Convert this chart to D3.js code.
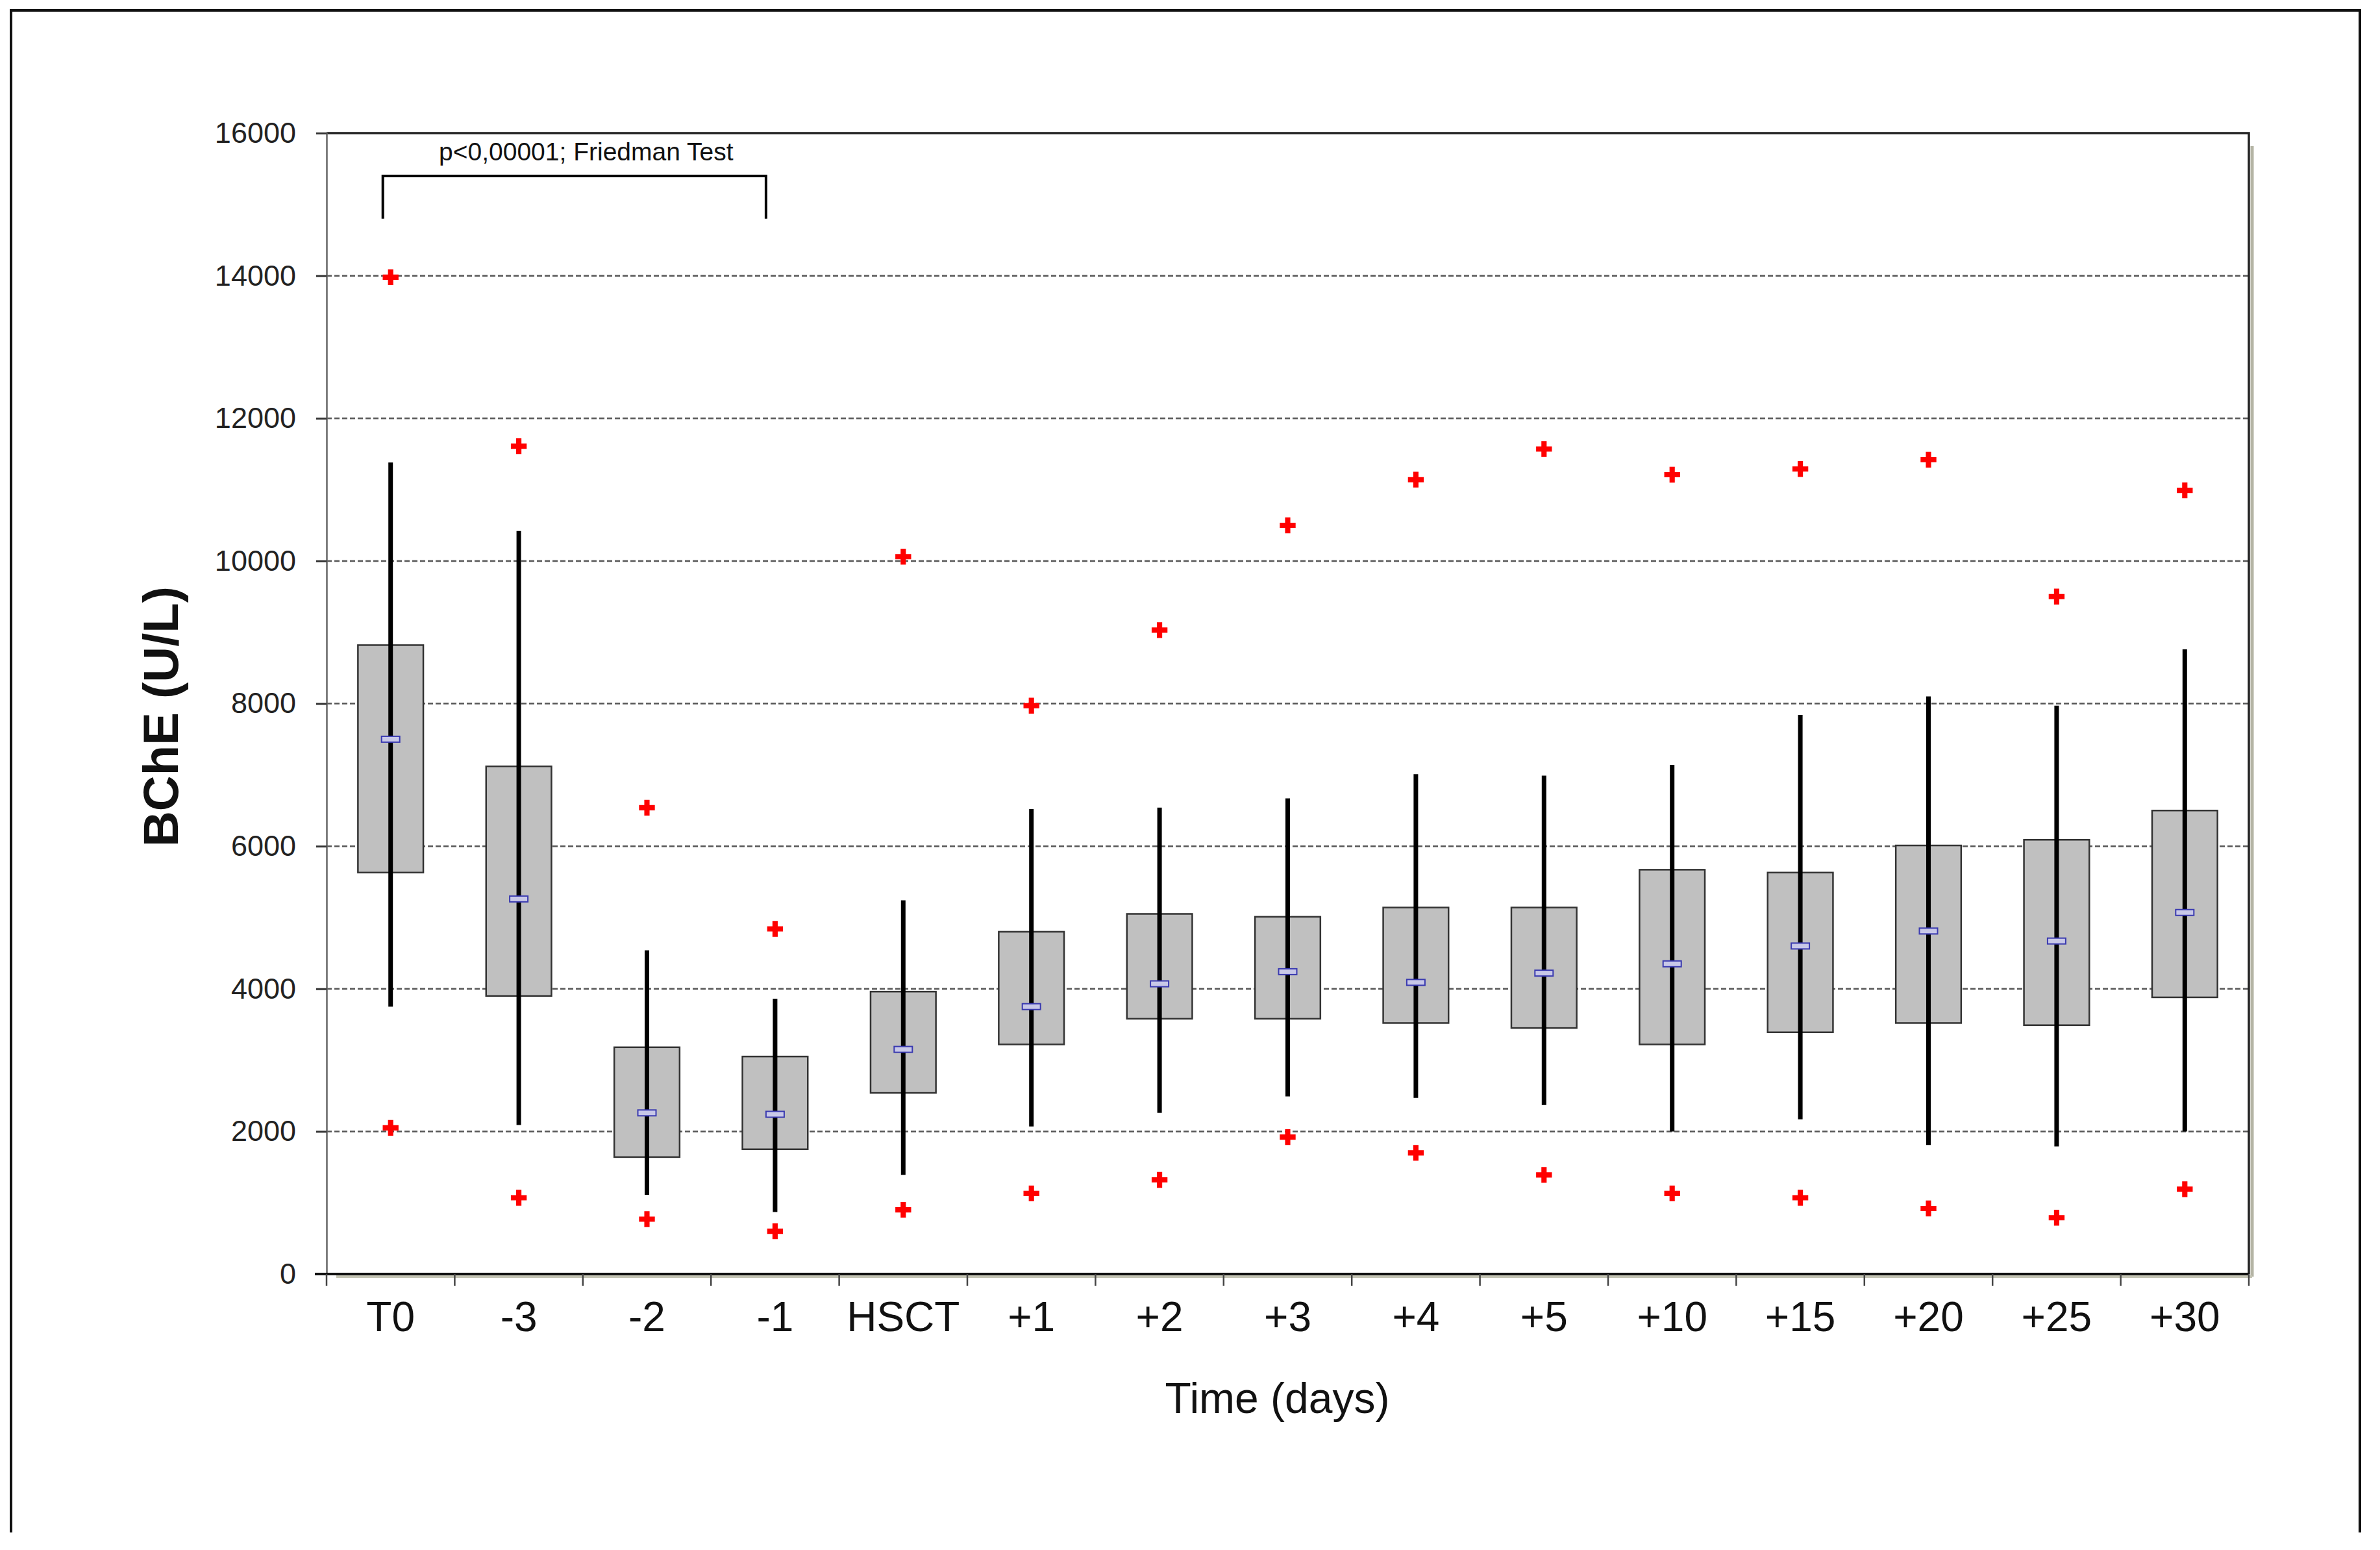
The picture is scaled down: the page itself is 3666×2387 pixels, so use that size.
<!DOCTYPE html>
<html>
<head>
<meta charset="utf-8">
<script src="https://cdn.jsdelivr.net/npm/d3@7"></script>
<style>
  html, body { margin: 0; padding: 0; background: #fff; }
  svg { display: block; }
  text { font-family: "Liberation Sans", Arial, sans-serif; }
</style>
</head>
<body>
<svg id="chart" width="3666" height="2387"></svg>
<script>
// ---- data ----
const categories   = ["T0", "-3", "-2", "-1", "HSCT", "+1", "+2", "+3", "+4", "+5", "+10", "+15", "+20", "+25", "+30"];
const q3Values     = [8820, 7120, 3180, 3050, 3960, 4800, 5050, 5010, 5140, 5140, 5670, 5630, 6010, 6090, 6500];
const q1Values     = [5630, 3900, 1640, 1750, 2540, 3220, 3580, 3580, 3520, 3450, 3220, 3390, 3520, 3490, 3880];
const medianValues = [7500, 5260, 2260, 2240, 3150, 3750, 4070, 4240, 4090, 4220, 4350, 4600, 4810, 4670, 5070];
const whiskerHigh  = [11380, 10420, 4540, 3860, 5240, 6520, 6540, 6670, 7010, 6990, 7140, 7840, 8100, 7970, 8760];
const whiskerLow   = [3750, 2090, 1110, 870, 1390, 2070, 2260, 2490, 2470, 2370, 2000, 2170, 1810, 1790, 2000];
const outlierHigh  = [13980, 11610, 6540, 4840, 10060, 7970, 9030, 10500, 11140, 11570, 11210, 11290, 11420, 9500, 10990];
const outlierLow   = [2050, 1070, 770, 600, 900, 1130, 1320, 1920, 1700, 1390, 1130, 1070, 920, 790, 1190];
const yTickValues  = [0, 2000, 4000, 6000, 8000, 10000, 12000, 14000, 16000];
const yAxisTitle   = "BChE (U/L)";
const xAxisTitle   = "Time (days)";
const annotationText = "p<0,00001; Friedman Test";
const bracketFrom  = "T0";
const bracketTo    = "-1";
const bracketLevels = { low: 14800, high: 15400, text: 15620 };

// ---- layout ----
const svg = d3.select("#chart");
const plot = { left: 503, right: 3464, top: 205, bottom: 1962 };

const x = d3.scaleBand().domain(categories).range([plot.left, plot.right]).paddingInner(0).paddingOuter(0);
const y = d3.scaleLinear().domain([0, 16000]).range([plot.bottom, plot.top]);
const cx = c => x(c) + x.bandwidth() / 2;
const boxW = x.bandwidth() * 0.51;

// outer frame (open at the bottom)
svg.append("path")
  .attr("d", "M17,2360 L17,16 L3635,16 L3635,2360")
  .attr("fill", "none").attr("stroke", "#111").attr("stroke-width", 4);

// plot background
svg.append("rect")
  .attr("x", plot.left).attr("y", plot.top)
  .attr("width", plot.right - plot.left).attr("height", plot.bottom - plot.top)
  .attr("fill", "#fff");

// gridlines
svg.append("g").selectAll("line")
  .data(yTickValues.filter(v => v > 0 && v < 16000))
  .join("line")
  .attr("x1", plot.left).attr("x2", plot.right)
  .attr("y1", d => y(d)).attr("y2", d => y(d))
  .attr("stroke", "#555").attr("stroke-width", 2.5)
  .attr("stroke-dasharray", "8,4");

// shadows on right and bottom borders
svg.append("line")
  .attr("x1", plot.right + 5).attr("x2", plot.right + 5)
  .attr("y1", plot.top + 20).attr("y2", plot.bottom + 4)
  .attr("stroke", "#b4b4a4").attr("stroke-width", 5);
svg.append("line")
  .attr("x1", plot.left + 15).attr("x2", plot.right + 5)
  .attr("y1", plot.bottom + 4).attr("y2", plot.bottom + 4)
  .attr("stroke", "#c4c4b4").attr("stroke-width", 4);

// top and right borders
svg.append("path")
  .attr("d", `M${plot.left},${plot.top} L${plot.right},${plot.top} L${plot.right},${plot.bottom}`)
  .attr("fill", "none").attr("stroke", "#222").attr("stroke-width", 3.5);

// y axis
const yAxis = d3.axisLeft(y).tickValues(yTickValues).tickSize(16).tickPadding(31).tickFormat(d3.format("d"));
const gy = svg.append("g").attr("transform", `translate(${plot.left},0)`).call(yAxis);
gy.select(".domain").attr("stroke", "#666").attr("stroke-width", 2.5);
gy.selectAll(".tick line").attr("stroke", "#333").attr("stroke-width", 3);
gy.selectAll(".tick text")
  .attr("font-size", 45).attr("fill", "#222")
  .style("font-family", "'Liberation Sans', Arial, sans-serif");

// x axis (ticks at category boundaries)
const boundaries = categories.map(c => x(c)).concat([plot.right]);
const gx = svg.append("g");
gx.append("line")
  .attr("x1", plot.left - 18).attr("x2", plot.right)
  .attr("y1", plot.bottom).attr("y2", plot.bottom)
  .attr("stroke", "#111").attr("stroke-width", 4);
gx.selectAll("line.tk").data(boundaries).join("line").attr("class", "tk")
  .attr("x1", d => d).attr("x2", d => d)
  .attr("y1", plot.bottom).attr("y2", plot.bottom + 18)
  .attr("stroke", "#444").attr("stroke-width", 2.5);
gx.selectAll("text").data(categories).join("text")
  .attr("x", d => cx(d)).attr("y", 2050)
  .attr("text-anchor", "middle").attr("font-size", 64).attr("fill", "#111")
  .text(d => d);

// boxes
const g = svg.append("g");
g.selectAll("rect.box").data(categories).join("rect").attr("class", "box")
  .attr("x", d => cx(d) - boxW / 2)
  .attr("y", (d, i) => y(q3Values[i]))
  .attr("width", boxW)
  .attr("height", (d, i) => y(q1Values[i]) - y(q3Values[i]))
  .attr("fill", "#c0c0c0").attr("stroke", "#333").attr("stroke-width", 2.5);

// whiskers (drawn over the box)
g.selectAll("line.wh").data(categories).join("line").attr("class", "wh")
  .attr("x1", d => cx(d)).attr("x2", d => cx(d))
  .attr("y1", (d, i) => y(whiskerLow[i])).attr("y2", (d, i) => y(whiskerHigh[i]))
  .attr("stroke", "#000").attr("stroke-width", 7);

// medians
g.selectAll("rect.med").data(categories).join("rect").attr("class", "med")
  .attr("x", d => cx(d) - 14).attr("y", (d, i) => y(medianValues[i]) - 4.5)
  .attr("width", 28).attr("height", 9)
  .attr("fill", "#c8c8e8").attr("stroke", "#3a3ab0").attr("stroke-width", 2);

// outliers
const cross = d3.symbol().type(d3.symbolCross).size(330);
const outliers = [];
categories.forEach((c, i) => {
  outliers.push({ c, v: outlierHigh[i] });
  outliers.push({ c, v: outlierLow[i] });
});
g.selectAll("path.out").data(outliers).join("path").attr("class", "out")
  .attr("transform", d => `translate(${cx(d.c)},${y(d.v)})`)
  .attr("d", cross)
  .attr("fill", "#ff0000");

// bracket annotation
const bx1 = cx(bracketFrom) - 12, bx2 = cx(bracketTo) - 14;
svg.append("path")
  .attr("d", `M${bx1},${y(bracketLevels.low)} L${bx1},${y(bracketLevels.high)} L${bx2},${y(bracketLevels.high)} L${bx2},${y(bracketLevels.low)}`)
  .attr("fill", "none").attr("stroke", "#000").attr("stroke-width", 4);
svg.append("text")
  .attr("x", (bx1 + bx2) / 2 + 18).attr("y", y(bracketLevels.text))
  .attr("text-anchor", "middle").attr("font-size", 39).attr("fill", "#111")
  .text(annotationText);

// axis titles
svg.append("text")
  .attr("transform", `translate(274, ${(plot.top + plot.bottom) / 2 + 20}) rotate(-90)`)
  .attr("text-anchor", "middle").attr("font-size", 76).attr("font-weight", "bold").attr("fill", "#111")
  .text(yAxisTitle);
svg.append("text")
  .attr("x", (plot.left + plot.right) / 2 - 16).attr("y", 2176)
  .attr("text-anchor", "middle").attr("font-size", 66).attr("fill", "#111")
  .text(xAxisTitle);
</script>
</body>
</html>
